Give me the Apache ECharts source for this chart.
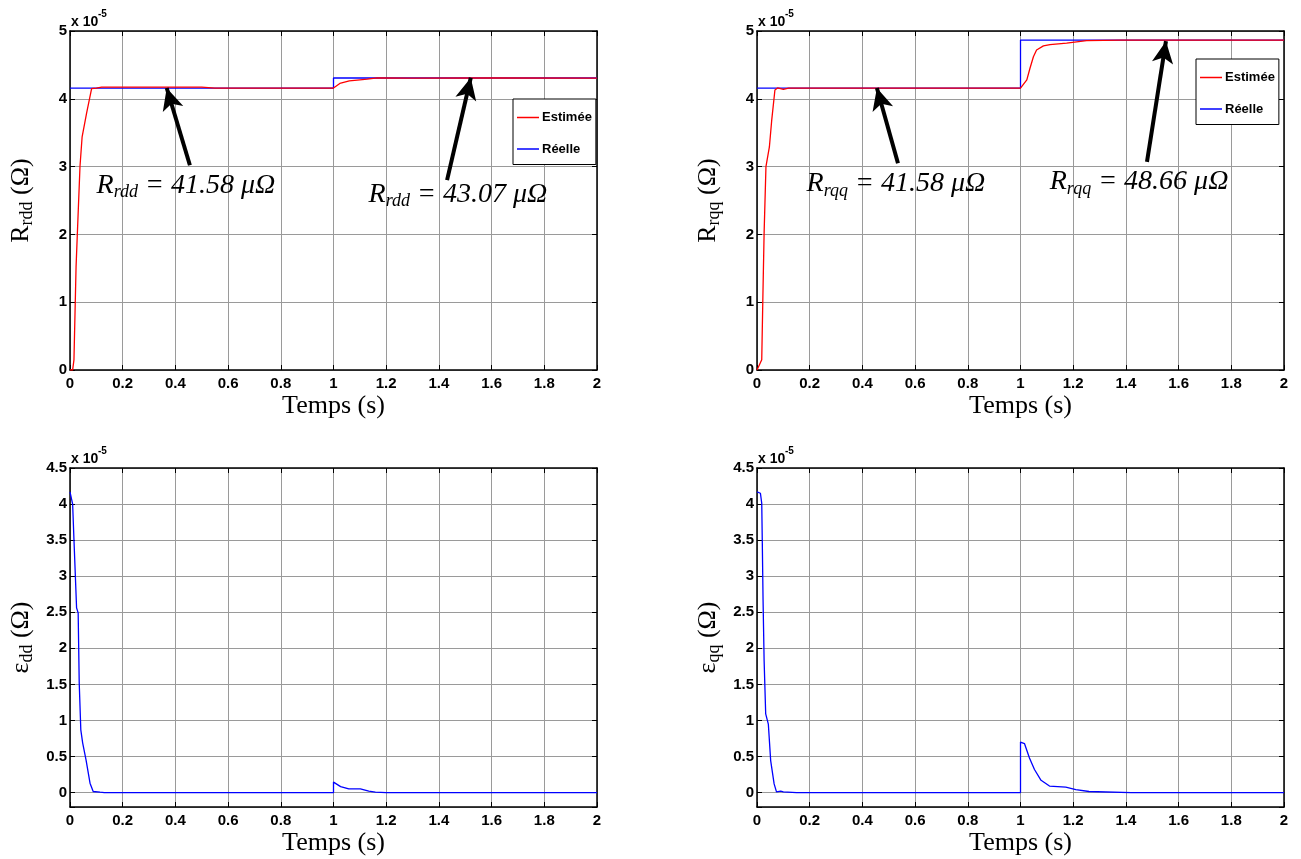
<!DOCTYPE html>
<html>
<head>
<meta charset="utf-8">
<script src="https://cdn.jsdelivr.net/npm/echarts@6/dist/echarts.min.js"></script>
<style>
html,body{margin:0;padding:0;background:#fff;}
#c{width:1301px;height:859px;}
</style>
</head>
<body>
<div id="c"></div>
<script>
// ---------- data (values in units of 1e-5 Ohm) ----------
const xTicks = [0, 0.2, 0.4, 0.6, 0.8, 1, 1.2, 1.4, 1.6, 1.8, 2];

const rddEstT = [0, 0.010, 0.015, 0.023, 0.028, 0.038, 0.046, 0.063, 0.082, 0.10, 0.12, 0.50, 0.55, 1.0, 1.024, 1.060, 1.100, 1.128, 1.166, 1.30, 1.60, 2.0];
const rddEstV = [0, 0, 0.15, 1.52, 2.02, 3.01, 3.44, 3.79, 4.15, 4.158, 4.172, 4.172, 4.158, 4.158, 4.226, 4.265, 4.280, 4.290, 4.310, 4.305, 4.308, 4.305];
const rddRealT = [0, 1, 1, 2];
const rddRealV = [4.158, 4.158, 4.307, 4.307];

const rqqEstT = [0, 0.005, 0.018, 0.022, 0.027, 0.034, 0.047, 0.056, 0.068, 0.078, 0.10, 0.12, 1.0, 1.024, 1.036, 1.049, 1.061, 1.087, 1.112, 1.175, 1.251, 1.378, 2.0];
const rqqEstV = [0, 0, 0.15, 1.01, 2.02, 3.00, 3.29, 3.69, 4.13, 4.16, 4.14, 4.158, 4.158, 4.28, 4.45, 4.62, 4.72, 4.78, 4.80, 4.82, 4.857, 4.866, 4.866];
const rqqRealT = [0, 1, 1, 2];
const rqqRealV = [4.158, 4.158, 4.866, 4.866];

const eddT = [0, 0.006, 0.010, 0.015, 0.025, 0.031, 0.035, 0.041, 0.048, 0.061, 0.076, 0.088, 0.114, 0.13, 1.0, 1.0, 1.027, 1.058, 1.102, 1.134, 1.159, 1.20, 2.0];
const eddV = [4.17, 4.16, 4.0, 3.51, 2.56, 2.49, 1.52, 0.87, 0.69, 0.45, 0.13, 0.015, 0.005, 0, 0, 0.145, 0.083, 0.05, 0.05, 0.02, 0.005, 0, 0];

const eqqT = [0, 0.013, 0.018, 0.020, 0.023, 0.027, 0.033, 0.043, 0.052, 0.065, 0.074, 0.09, 0.10, 0.15, 1.0, 1.0, 1.015, 1.034, 1.053, 1.078, 1.11, 1.172, 1.21, 1.26, 1.42, 2.0];
const eqqV = [4.17, 4.15, 4.01, 3.5, 2.67, 1.83, 1.09, 0.95, 0.44, 0.12, 0.01, 0.02, 0.01, 0, 0, 0.70, 0.68, 0.48, 0.32, 0.17, 0.09, 0.075, 0.04, 0.015, 0, 0];

// annotation arrows: [tailT, tailV, tipT, tipV]
const arrowsRdd = [[0.455, 3.02, 0.367, 4.16], [1.431, 2.80, 1.521, 4.31]];
const arrowsRqq = [[0.535, 3.05, 0.455, 4.16], [1.480, 3.07, 1.552, 4.85]];
// annotation labels: [t, v, subscript, value]
const labelsRdd = [[0.440, 2.71, 'rdd', '41.58'], [1.472, 2.57, 'rdd', '43.07']];
const labelsRqq = [[0.527, 2.73, 'rqq', '41.58'], [1.450, 2.76, 'rqq', '48.66']];

const legendNames = ['Estimée', 'Réelle'];
const yNames = [['R', 'rdd'], ['R', 'rqq'], ['ε', 'dd'], ['ε', 'qq']];

// ---------- helpers ----------
const zip = (t, v) => t.map((x, i) => [x, v[i]]);
const TICKFONT = "'Liberation Sans',Arial,sans-serif";
const SERIF = "'Liberation Serif','Times New Roman',serif";

const grids = [
  {left: 70, top: 31, width: 527, height: 339},
  {left: 757, top: 31, width: 527, height: 339},
  {left: 70, top: 468, width: 527, height: 339},
  {left: 757, top: 468, width: 527, height: 339}
];

const xAxis = [], yAxis = [];
grids.forEach((g, i) => {
  const lineStyle = {color: '#000', width: 1.5};
  xAxis.push({
    gridIndex: i, type: 'value', min: 0, max: 2, interval: 0.2, position: 'bottom',
    axisLine: {show: true, onZero: false, lineStyle},
    axisTick: {show: true, inside: true, length: 5, lineStyle: {color: '#000', width: 1}},
    axisLabel: {color: '#000', fontFamily: TICKFONT, fontWeight: 'bold', fontSize: 15, margin: 6,
      formatter: v => String(Math.round(v * 10) / 10)},
    splitLine: {show: true, lineStyle: {color: '#9a9a9a', width: 1}},
    name: 'Temps (s)', nameLocation: 'middle', nameGap: 23,
    nameTextStyle: {fontFamily: SERIF, fontSize: 26, color: '#000'}
  });
  xAxis.push({
    gridIndex: i, type: 'value', min: 0, max: 2, interval: 0.2, position: 'top',
    axisLine: {show: true, onZero: false, lineStyle},
    axisTick: {show: true, inside: true, length: 5, lineStyle: {color: '#000', width: 1}},
    axisLabel: {show: false}, splitLine: {show: false}
  });
  const top = i < 2;
  const yBase = top ? {min: 0, max: 5, interval: 1} : {min: -0.2, max: 4.5, splitNumber: 9};
  const nm = yNames[i];
  yAxis.push(Object.assign({
    gridIndex: i, type: 'value', position: 'left',
    axisLine: {show: true, onZero: false, lineStyle},
    axisTick: {show: true, inside: true, length: 5, lineStyle: {color: '#000', width: 1}},
    axisLabel: {color: '#000', fontFamily: TICKFONT, fontWeight: 'bold', fontSize: 15, margin: 3,
      formatter: v => (v < -0.01 ? '' : String(Math.round(v * 10) / 10))},
    splitLine: {show: true, lineStyle: {color: '#9a9a9a', width: 1}},
    name: '{m|' + nm[0] + '}{s|' + nm[1] + '}{m| (Ω)}', nameLocation: 'middle', nameGap: 34, nameRotate: 90,
    nameTextStyle: {fontFamily: SERIF, fontSize: 26, color: '#000',
      rich: {
        m: {fontFamily: SERIF, fontSize: 26, color: '#000', lineHeight: 28, verticalAlign: 'top'},
        s: {fontFamily: SERIF, fontSize: 18, color: '#000', lineHeight: 18, verticalAlign: 'bottom'}
      }}
  }, yBase));
  yAxis.push(Object.assign({
    gridIndex: i, type: 'value', position: 'right',
    axisLine: {show: true, onZero: false, lineStyle},
    axisTick: {show: true, inside: true, length: 5, lineStyle: {color: '#000', width: 1}},
    axisLabel: {show: false}, splitLine: {show: false}
  }, yBase));
});

const annStyle = {
  R: {fontFamily: SERIF, fontStyle: 'italic', fontSize: 28, color: '#000', lineHeight: 30, verticalAlign: 'top'},
  s: {fontFamily: SERIF, fontStyle: 'italic', fontSize: 18, color: '#000', lineHeight: 18, verticalAlign: 'bottom'},
  n: {fontFamily: SERIF, fontStyle: 'italic', fontSize: 28, color: '#000', lineHeight: 30, verticalAlign: 'top'}
};
function marks(arrows, labels) {
  return {
    markLine: {
      silent: true, animation: false, symbol: ['none', 'arrow'], symbolSize: [16, 22],
      lineStyle: {color: '#000', width: 4, type: 'solid'},
      label: {show: false},
      data: arrows.map(a => [{coord: [a[0], a[1]]}, {coord: [a[2], a[3]]}])
    },
    markPoint: {
      silent: true, animation: false, symbol: 'circle', symbolSize: 0,
      itemStyle: {color: 'rgba(0,0,0,0)'},
      data: labels.map(l => ({
        coord: [l[0], l[1]],
        label: {show: true, position: 'inside', formatter: '{R|R}{s|' + l[2] + '}{n| = ' + l[3] + ' μΩ}', rich: annStyle}
      }))
    }
  };
}

const lineSeries = (name, idx, data, color, extra) => Object.assign({
  name, type: 'line', xAxisIndex: idx * 2, yAxisIndex: idx * 2, data,
  symbol: 'none', showSymbol: false, animation: false,
  lineStyle: {color, width: 1.3}, itemStyle: {color}, z: color === '#ff0000' ? 3 : 2
}, extra || {});

const series = [
  lineSeries(legendNames[1], 0, zip(rddRealT, rddRealV), '#0000ff'),
  lineSeries(legendNames[0], 0, zip(rddEstT, rddEstV), '#ff0000', marks(arrowsRdd, labelsRdd)),
  lineSeries(legendNames[1], 1, zip(rqqRealT, rqqRealV), '#0000ff'),
  lineSeries(legendNames[0], 1, zip(rqqEstT, rqqEstV), '#ff0000', marks(arrowsRqq, labelsRqq)),
  lineSeries('edd', 2, zip(eddT, eddV), '#0000ff'),
  lineSeries('eqq', 3, zip(eqqT, eqqV), '#0000ff')
];

const legendBase = {
  orient: 'vertical', data: legendNames, icon: 'rect', itemWidth: 22, itemHeight: 1.5, itemGap: 18.5,
  padding: [12, 4, 9, 4], borderColor: '#000', borderWidth: 1, backgroundColor: '#fff',
  textStyle: {fontFamily: "'Liberation Sans',Arial,sans-serif", fontWeight: 'bold', fontSize: 13, color: '#000', padding: [0, 0, 0, -2]},
  selectedMode: false
};

const expoFont = "bold 14px 'Liberation Sans',Arial,sans-serif";
const expoSupFont = "bold 10px 'Liberation Sans',Arial,sans-serif";
const graphic = [];
grids.forEach(g => {
  graphic.push({type: 'text', left: g.left + 1, top: g.top - 16, silent: true,
    style: {text: 'x 10', font: expoFont, fill: '#000'}});
  graphic.push({type: 'text', left: g.left + 28, top: g.top - 22, silent: true,
    style: {text: '-5', font: expoSupFont, fill: '#000'}});
});

const chart = echarts.init(document.getElementById('c'), null, {renderer: 'canvas'});
chart.setOption({
  backgroundColor: '#fff',
  animation: false,
  grid: grids,
  xAxis, yAxis, series,
  legend: [
    Object.assign({left: 513, top: 99}, legendBase),
    Object.assign({left: 1196, top: 59}, legendBase)
  ],
  graphic
});
</script>
</body>
</html>
